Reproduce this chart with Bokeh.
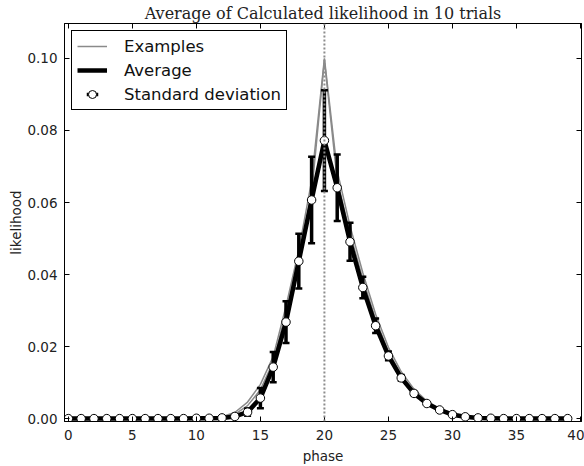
from math import pi
from bokeh.plotting import figure
from bokeh.models import (Range1d, LinearAxis, Legend, LegendItem, Span,
                          ColumnDataSource, FixedTicker, NumeralTickFormatter)
from bokeh.embed import file_html
from bokeh.resources import INLINE

# ---------------- data ----------------
phase = [0, 1, 2, 3, 4, 5, 6, 7, 8, 9,
         10, 11, 12, 13, 14, 15, 16, 17, 18, 19,
         20, 21, 22, 23, 24, 25, 26, 27, 28, 29,
         30, 31, 32, 33, 34, 35, 36, 37, 38, 39]

average = [0.0, 0.0, 0.0, 0.0, 0.0, 0.0, 0.0, 0.0, 0.0, 0.0,
           0.0001, 0.0001, 0.0002, 0.0006, 0.0018, 0.0057, 0.0143, 0.0268, 0.0437, 0.0607,
           0.0772, 0.0641, 0.0491, 0.0364, 0.0258, 0.0174, 0.0113, 0.0070, 0.0042, 0.0024,
           0.0011, 0.0005, 0.0002, 0.0001, 0.0, 0.0, 0.0, 0.0, 0.0, 0.0]

std_dev = [0.0, 0.0, 0.0, 0.0, 0.0, 0.0, 0.0, 0.0, 0.0, 0.0,
           0.0, 0.0, 0.0, 0.0004, 0.0010, 0.0028, 0.0042, 0.0058, 0.0076, 0.0120,
           0.0140, 0.0092, 0.0053, 0.0030, 0.0020, 0.0012, 0.0008, 0.0005, 0.0003, 0.0002,
           0.0001, 0.0, 0.0, 0.0, 0.0, 0.0, 0.0, 0.0, 0.0, 0.0]

example_1 = [0.0, 0.0, 0.0, 0.0, 0.0, 0.0, 0.0, 0.0, 0.0, 0.0,
             0.0, 0.0001, 0.0005, 0.0017, 0.0046, 0.0095, 0.0172, 0.0312, 0.0468, 0.0660,
             0.1000, 0.0688, 0.0535, 0.0405, 0.0290, 0.0198, 0.0130, 0.0082, 0.0049, 0.0028,
             0.0015, 0.0007, 0.0003, 0.0001, 0.0, 0.0, 0.0, 0.0, 0.0, 0.0]

example_2 = [0.0, 0.0, 0.0, 0.0, 0.0, 0.0, 0.0, 0.0, 0.0, 0.0,
             0.0, 0.0001, 0.0003, 0.0012, 0.0036, 0.0080, 0.0158, 0.0295, 0.0452, 0.0625,
             0.0995, 0.0662, 0.0514, 0.0388, 0.0275, 0.0186, 0.0121, 0.0076, 0.0045, 0.0025,
             0.0012, 0.0006, 0.0002, 0.0001, 0.0, 0.0, 0.0, 0.0, 0.0, 0.0]

peak_phase = 20
x_ticks = [0, 5, 10, 15, 20, 25, 30, 35, 40]
y_ticks = [0.0, 0.02, 0.04, 0.06, 0.08, 0.10]

title_text = "Average of Calculated likelihood in 10 trials"
x_label = "phase"
y_label = "likelihood"

# ---------------- figure ----------------
src = ColumnDataSource(dict(
    phase=phase, avg=average, ex1=example_1, ex2=example_2,
    lo=[a - s for a, s in zip(average, std_dev)],
    hi=[a + s for a, s in zip(average, std_dev)],
))

p = figure(width=584, height=466, output_backend="svg", toolbar_location=None,
           x_range=Range1d(-0.3, 40.08), y_range=Range1d(-0.0008, 0.1097),
           title=title_text,
           min_border_left=64, min_border_right=3, min_border_top=23,
           min_border_bottom=45)

p.title.text_font = "DejaVu Serif"
p.title.text_font_size = "16px"
p.title.text_font_style = "normal"
p.title.text_color = "#222222"
p.title.align = "center"
p.title.standoff = 2
p.title.offset = 0

p.xgrid.visible = False
p.ygrid.visible = False
p.outline_line_color = "black"
p.outline_line_width = 1
p.outline_line_alpha = 1
p.background_fill_color = "white"
p.border_fill_color = "white"

tick_font = "DejaVu Sans"
for ax in (p.xaxis[0], p.yaxis[0]):
    ax.major_tick_in = 5
    ax.major_tick_out = 0
    ax.minor_tick_in = 0
    ax.minor_tick_out = 0
    ax.axis_line_color = "black"
    ax.major_tick_line_color = "black"
    ax.major_label_text_font = tick_font
    ax.major_label_text_font_size = "13.5px"
    ax.major_label_text_color = "#222222"
    ax.axis_label_text_font = tick_font
    ax.axis_label_text_font_size = "13.5px"
    ax.axis_label_text_font_style = "normal"
    ax.axis_label_text_color = "#222222"

p.xaxis[0].ticker = FixedTicker(ticks=x_ticks)
p.yaxis[0].ticker = FixedTicker(ticks=y_ticks)
p.yaxis[0].formatter = NumeralTickFormatter(format="0.00")
p.xaxis[0].axis_label = x_label
p.yaxis[0].axis_label = y_label
p.xaxis[0].major_label_standoff = 8
p.xaxis[0].axis_label_standoff = 5
p.yaxis[0].major_label_standoff = 7
p.yaxis[0].axis_label_standoff = 0

# tick marks on the top and right spines (no labels)
top_axis = LinearAxis(ticker=FixedTicker(ticks=x_ticks))
right_axis = LinearAxis(ticker=FixedTicker(ticks=y_ticks))
for ax in (top_axis, right_axis):
    ax.major_tick_in = 5
    ax.major_tick_out = 0
    ax.minor_tick_in = 0
    ax.minor_tick_out = 0
    ax.major_label_text_color = None
    ax.major_label_standoff = 0
    ax.axis_line_color = "black"
p.add_layout(top_axis, "above")
p.add_layout(right_axis, "right")

# ---------------- glyphs ----------------
ex1_r = p.line("phase", "ex1", source=src, line_color="#8a8a8a", line_width=1.5)
ex2_r = p.line("phase", "ex2", source=src, line_color="#8a8a8a", line_width=1.5)
avg_r = p.line("phase", "avg", source=src, line_color="black", line_width=4.5)
bar_r = p.segment(x0="phase", y0="lo", x1="phase", y1="hi", source=src,
                  line_color="black", line_width=3.5)
cap_lo = p.scatter("phase", "lo", source=src, marker="dash", size=7,
                   line_color="black", line_width=2.5)
cap_hi = p.scatter("phase", "hi", source=src, marker="dash", size=7,
                   line_color="black", line_width=2.5)

# legend-only vertical bar symbol for the error bars (not shown in the plot)
leg_bar = p.scatter("phase", "avg", source=src, marker="dash", angle=pi / 2,
                    size=8, line_color="black", line_width=3.5,
                    line_cap="square", visible=False)

pts_r = p.scatter("phase", "avg", source=src, marker="circle", size=8.5,
                  fill_color="white", line_color="black", line_width=1)

vline = Span(location=peak_phase, dimension="height", line_color="#8c8c8c",
             line_dash="2 2", line_width=2)
p.add_layout(vline)

legend = Legend(items=[
    LegendItem(label="Examples", renderers=[ex1_r]),
    LegendItem(label="Average", renderers=[avg_r]),
    LegendItem(label="Standard deviation", renderers=[leg_bar, pts_r]),
], location="top_left")
legend.margin = 7
legend.padding = 5
legend.spacing = 4
legend.glyph_width = 30
legend.glyph_height = 20
legend.label_height = 20
legend.label_standoff = 17
legend.label_text_font = tick_font
legend.label_text_font_size = "16.5px"
legend.label_text_color = "#111111"
legend.border_line_color = "black"
legend.border_line_width = 1
legend.border_line_alpha = 1
legend.background_fill_alpha = 1
p.add_layout(legend)

open("out.html", "w").write(file_html(p, INLINE))
